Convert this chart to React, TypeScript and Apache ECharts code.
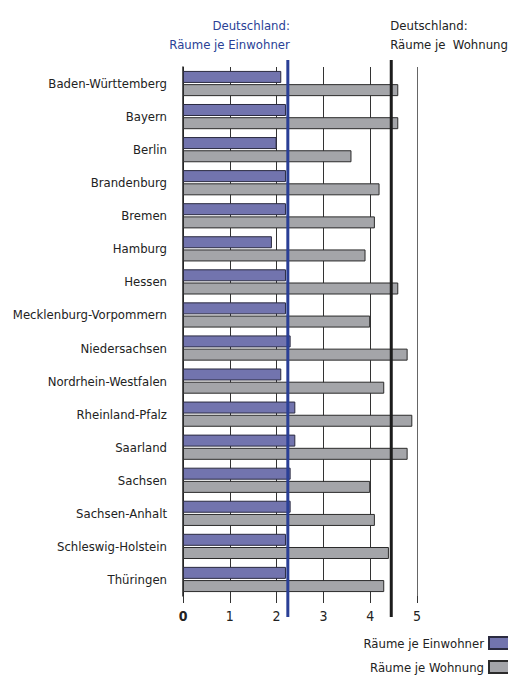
import React, { useEffect, useRef } from "react";
import * as echarts from "echarts";

const categories = [
  "Baden-Württemberg",
  "Bayern",
  "Berlin",
  "Brandenburg",
  "Bremen",
  "Hamburg",
  "Hessen",
  "Mecklenburg-Vorpommern",
  "Niedersachsen",
  "Nordrhein-Westfalen",
  "Rheinland-Pfalz",
  "Saarland",
  "Sachsen",
  "Sachsen-Anhalt",
  "Schleswig-Holstein",
  "Thüringen",
];

const raeumeJeEinwohner = [2.1, 2.2, 2.0, 2.2, 2.2, 1.9, 2.2, 2.2, 2.3, 2.1, 2.4, 2.4, 2.3, 2.3, 2.2, 2.2];
const raeumeJeWohnung = [4.6, 4.6, 3.6, 4.2, 4.1, 3.9, 4.6, 4.0, 4.8, 4.3, 4.9, 4.8, 4.0, 4.1, 4.4, 4.3];

const deutschlandEinwohner = 2.24;
const deutschlandWohnung = 4.45;

const seriesNames = ["Räume je Einwohner", "Räume je Wohnung"];
const headerEinwohner = "Deutschland:\nRäume je Einwohner";
const headerWohnung = "Deutschland:\nRäume je  Wohnung";

const FONT = "'DejaVu Sans Condensed', 'Liberation Sans Narrow', sans-serif";
const FS = 13;
const BLUE_BAR = "#7274ae";
const GRAY_BAR = "#a4a5a9";
const BLUE_LINE = "#2a3f96";
const BLACK_LINE = "#1c1c1c";

function legendFor(name: string, top: number) {
  return {
    orient: "vertical",
    right: -4,
    top,
    padding: 0,
    align: "right",
    itemWidth: 22,
    itemHeight: 12,
    itemGap: 0,
    icon: "rect",
    textStyle: { fontFamily: FONT, fontSize: FS, color: "#222" },
    data: [name],
  };
}

export default function App() {
  const ref = useRef<HTMLDivElement>(null);

  useEffect(() => {
    if (!ref.current) return;
    const chart = echarts.init(ref.current, undefined, { renderer: "svg" });
    const option: any = {
      animation: false,
      backgroundColor: "#ffffff",
      textStyle: { fontFamily: FONT },
      grid: {
        left: 183,
        right: 91,
        top: 67,
        bottom: 79,
        containLabel: false,
        outerBoundsMode: "none",
      },
      legend: [legendFor(seriesNames[0], 636), legendFor(seriesNames[1], 660)],
      xAxis: {
        type: "value",
        min: 0,
        max: 5,
        interval: 1,
        axisLine: { show: false },
        axisTick: { show: true, length: 7, lineStyle: { color: "#333", width: 1 } },
        splitLine: {
          show: true,
          lineStyle: { color: ["#333", "#333", "#333", "#333", "#333", "#666"], width: 1 },
        },
        axisLabel: {
          margin: 13,
          fontFamily: FONT,
          fontSize: FS + 1,
          color: "#222",
          formatter: (v: number) => (v === 0 ? "{b|0}" : String(v)),
          rich: { b: { fontWeight: "bold", fontSize: FS + 1, fontFamily: FONT, color: "#222" } },
        },
      },
      yAxis: {
        type: "category",
        inverse: true,
        data: categories,
        axisLine: { show: true, lineStyle: { color: "#222", width: 1.5 } },
        axisTick: { show: false },
        axisLabel: { margin: 16, fontFamily: FONT, fontSize: FS, color: "#222" },
      },
      series: [
        {
          name: seriesNames[0],
          type: "bar",
          data: raeumeJeEinwohner,
          barWidth: 12,
          barGap: "10%",
          itemStyle: { color: BLUE_BAR, borderColor: "#2b2b40", borderWidth: 1 },
        },
        {
          name: seriesNames[1],
          type: "bar",
          data: raeumeJeWohnung,
          barWidth: 12,
          barGap: "10%",
          itemStyle: { color: GRAY_BAR, borderColor: "#2b2b2b", borderWidth: 1 },
        },
      ],
    };
    chart.setOption(option);

    const xBlue = chart.convertToPixel({ xAxisIndex: 0 }, deutschlandEinwohner) as number;
    const xBlack = chart.convertToPixel({ xAxisIndex: 0 }, deutschlandWohnung) as number;
    const yTop = 60;
    const yBottom = 617;

    chart.setOption({
      graphic: [
        {
          type: "line",
          shape: { x1: xBlue, y1: yTop, x2: xBlue, y2: yBottom },
          style: { stroke: BLUE_LINE, lineWidth: 3 },
          z: 100,
        },
        {
          type: "line",
          shape: { x1: xBlack, y1: yTop, x2: xBlack, y2: yBottom },
          style: { stroke: BLACK_LINE, lineWidth: 3 },
          z: 100,
        },
        {
          type: "text",
          x: xBlue + 2,
          y: 16,
          style: {
            text: headerEinwohner,
            fill: BLUE_LINE,
            font: `${FS}px ${FONT}`,
            align: "right",
            verticalAlign: "top",
            lineHeight: 19,
          },
          z: 100,
        },
        {
          type: "text",
          x: xBlack - 1,
          y: 16,
          style: {
            text: headerWohnung,
            fill: "#222",
            font: `${FS}px ${FONT}`,
            align: "left",
            verticalAlign: "top",
            lineHeight: 19,
          },
          z: 100,
        },
      ],
    });

    return () => chart.dispose();
  }, []);

  return (
    <div
      ref={ref}
      style={{ position: "absolute", left: 0, top: 0, width: 508, height: 675 }}
    />
  );
}
